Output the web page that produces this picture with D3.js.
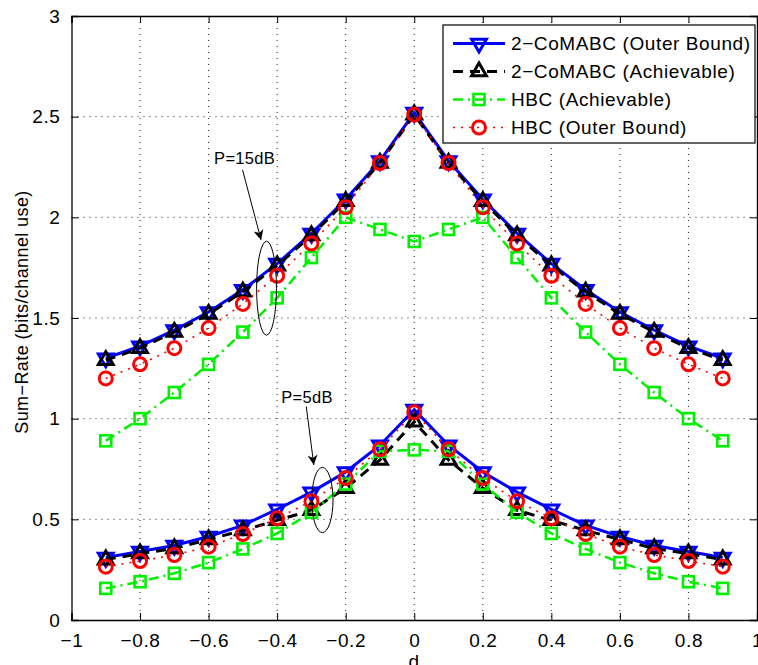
<!DOCTYPE html>
<html>
<head>
<meta charset="utf-8">
<script src="https://cdn.jsdelivr.net/npm/d3@7"></script>
<style>
  body { margin: 0; background: #fff; }
  text { font-family: "Liberation Sans", Arial, Helvetica, sans-serif; }
</style>
</head>
<body>
<div id="chart"></div>
<script>
// read in the data
var dValues = [-0.9, -0.8, -0.7, -0.6, -0.5, -0.4, -0.3, -0.2, -0.1, 0, 0.1, 0.2, 0.3, 0.4, 0.5, 0.6, 0.7, 0.8, 0.9];

// P = 15dB
var coOuter15 = [1.30, 1.36, 1.44, 1.53, 1.64, 1.77, 1.92, 2.09, 2.28, 2.52, 2.28, 2.09, 1.92, 1.77, 1.64, 1.53, 1.44, 1.36, 1.30];
var coAch15   = [1.29, 1.35, 1.43, 1.52, 1.63, 1.76, 1.91, 2.08, 2.27, 2.51, 2.27, 2.08, 1.91, 1.76, 1.63, 1.52, 1.43, 1.35, 1.29];
var hbcAch15  = [0.89, 1.00, 1.13, 1.27, 1.43, 1.60, 1.80, 2.00, 1.94, 1.88, 1.94, 2.00, 1.80, 1.60, 1.43, 1.27, 1.13, 1.00, 0.89];
var hbcOuter15 = [1.20, 1.27, 1.35, 1.45, 1.57, 1.71, 1.87, 2.05, 2.27, 2.51, 2.27, 2.05, 1.87, 1.71, 1.57, 1.45, 1.35, 1.27, 1.20];

// P = 5dB
var coOuter5  = [0.31, 0.34, 0.37, 0.415, 0.47, 0.55, 0.635, 0.735, 0.868, 1.045, 0.868, 0.735, 0.635, 0.55, 0.47, 0.415, 0.37, 0.34, 0.31];
var coAch5    = [0.30, 0.33, 0.355, 0.40, 0.445, 0.495, 0.545, 0.655, 0.795, 0.985, 0.795, 0.655, 0.545, 0.495, 0.445, 0.40, 0.355, 0.33, 0.30];
var hbcAch5   = [0.157, 0.19, 0.232, 0.285, 0.353, 0.43, 0.535, 0.675, 0.838, 0.845, 0.838, 0.675, 0.535, 0.43, 0.353, 0.285, 0.232, 0.19, 0.157];
var hbcOuter5 = [0.265, 0.293, 0.323, 0.364, 0.427, 0.505, 0.59, 0.705, 0.848, 1.032, 0.848, 0.705, 0.59, 0.505, 0.427, 0.364, 0.323, 0.293, 0.265];

var seriesNames = ["2\u2212CoMABC (Outer Bound)", "2\u2212CoMABC (Achievable)", "HBC (Achievable)", "HBC (Outer Bound)"];
var xTicks = [-1, -0.8, -0.6, -0.4, -0.2, 0, 0.2, 0.4, 0.6, 0.8, 1];
var yTicks = [0, 0.5, 1, 1.5, 2, 2.5, 3];

var W = 758, H = 665;
var margin = {top: 16, right: 1, bottom: 45, left: 71.5};
var width = W - margin.left - margin.right,
    height = H - margin.top - margin.bottom;

var svg = d3.select("#chart").append("svg")
    .attr("width", W)
    .attr("height", H)
  .append("g")
    .attr("transform", "translate(" + margin.left + "," + margin.top + ")");

var x = d3.scaleLinear().domain([-1, 1]).range([0, width]);
var y = d3.scaleLinear().domain([0, 3]).range([height, 0]);

// grid
svg.selectAll(".vgrid").data(xTicks.slice(1, -1)).enter().append("line")
    .attr("x1", function(d) { return x(d); }).attr("x2", function(d) { return x(d); })
    .attr("y1", 0).attr("y2", height)
    .attr("stroke", "#222").attr("stroke-width", 1).attr("stroke-dasharray", "1,5");
svg.selectAll(".hgrid").data(yTicks.slice(1, -1)).enter().append("line")
    .attr("y1", function(d) { return y(d); }).attr("y2", function(d) { return y(d); })
    .attr("x1", 0).attr("x2", width)
    .attr("stroke", "#222").attr("stroke-width", 1).attr("stroke-dasharray", "1,5");

// axes (ticks pointing in, MATLAB style)
var fmt = function(d) { return d3.format("")(d); };
var gx = svg.append("g").attr("transform", "translate(0," + height + ")")
    .call(d3.axisBottom(x).tickValues(xTicks).tickSize(-7).tickPadding(14).tickFormat(fmt));
var gx2 = svg.append("g")
    .call(d3.axisTop(x).tickValues(xTicks).tickSize(-7).tickFormat(""));
var gy = svg.append("g")
    .call(d3.axisLeft(y).tickValues(yTicks).tickSize(-7).tickPadding(11).tickFormat(fmt));
var gy2 = svg.append("g").attr("transform", "translate(" + width + ",0)")
    .call(d3.axisRight(y).tickValues(yTicks).tickSize(-7).tickFormat(""));
[gx, gx2, gy, gy2].forEach(function(g) {
  g.select(".domain").attr("stroke", "#000").attr("stroke-width", 1.3);
  g.selectAll(".tick line").attr("stroke", "#000");
  g.selectAll("text").attr("font-size", 19).attr("letter-spacing", 0.6).attr("fill", "#000")
    .attr("font-family", "'Liberation Sans', Arial, sans-serif");
});

// series definitions
var styles = [
  {color: "#0000ff", dash: null, width: 3, marker: "down"},
  {color: "#000000", dash: "10,7", width: 3, marker: "up"},
  {color: "#00f000", dash: "10,5,2,5", width: 2.5, marker: "square"},
  {color: "#ff0000", dash: "2,6", width: 1.6, marker: "circle"}
];
var groups = [
  [coOuter15, coAch15, hbcAch15, hbcOuter15],
  [coOuter5, coAch5, hbcAch5, hbcOuter5]
];

var line = d3.line().x(function(d) { return x(d[0]); }).y(function(d) { return y(d[1]); });

function drawMarker(sel, st) {
  if (st.marker === "circle") {
    sel.append("circle").attr("r", 6.5)
      .attr("fill", "none").attr("stroke", st.color).attr("stroke-width", 3);
  } else if (st.marker === "square") {
    sel.append("rect").attr("x", -5.5).attr("y", -5.5).attr("width", 11).attr("height", 11)
      .attr("fill", "none").attr("stroke", st.color).attr("stroke-width", 2.6);
  } else {
    sel.append("path")
      .attr("d", d3.symbol().type(d3.symbolTriangle).size(95))
      .attr("transform", st.marker === "down" ? "rotate(180)" : null)
      .attr("fill", "none").attr("stroke", st.color).attr("stroke-width", 3);
  }
}

styles.forEach(function(st, si) {
  groups.forEach(function(grp) {
    var pts = dValues.map(function(d, i) { return [d, grp[si][i]]; });
    svg.append("path").datum(pts)
      .attr("d", line)
      .attr("fill", "none")
      .attr("stroke", st.color)
      .attr("stroke-width", st.width)
      .attr("stroke-dasharray", st.dash);
    svg.selectAll(null).data(pts).enter().append("g")
      .attr("transform", function(d) { return "translate(" + x(d[0]) + "," + y(d[1]) + ")"; })
      .each(function() { drawMarker(d3.select(this), st); });
  });
});

// annotations
var notes = [
  {label: "P=15dB", tx: -0.584, ty: 2.264, ax1: -0.501, ay1: 2.236, ax2: -0.447, ay2: 1.888, ex: -0.431, ey: 1.648, erx: 0.029, ery: 0.233},
  {label: "P=5dB", tx: -0.388, ty: 1.08, ax1: -0.315, ay1: 1.06, ax2: -0.293, ay2: 0.77, ex: -0.268, ey: 0.596, erx: 0.031, ery: 0.162}
];
svg.append("defs").append("marker")
    .attr("id", "arrow").attr("viewBox", "0 0 10 10")
    .attr("refX", 10).attr("refY", 5)
    .attr("markerWidth", 10).attr("markerHeight", 14)
    .attr("markerUnits", "userSpaceOnUse")
    .attr("orient", "auto")
  .append("path").attr("d", "M0,0 L10,5 L0,10 L3,5 Z").attr("fill", "#000");
notes.forEach(function(n) {
  svg.append("text").attr("x", x(n.tx)).attr("y", y(n.ty))
    .attr("font-size", 16.5).attr("letter-spacing", 0.3).attr("fill", "#000").text(n.label);
  svg.append("line")
    .attr("x1", x(n.ax1)).attr("y1", y(n.ay1))
    .attr("x2", x(n.ax2)).attr("y2", y(n.ay2))
    .attr("stroke", "#000").attr("stroke-width", 1)
    .attr("marker-end", "url(#arrow)");
  svg.append("ellipse")
    .attr("cx", x(n.ex)).attr("cy", y(n.ey))
    .attr("rx", x(n.ex + n.erx) - x(n.ex)).attr("ry", y(n.ey) - y(n.ey + n.ery))
    .attr("fill", "none").attr("stroke", "#000").attr("stroke-width", 1);
});

// legend
var lg = svg.append("g").attr("transform", "translate(" + (443 - margin.left) + "," + (25 - margin.top) + ")");
lg.append("rect").attr("width", 312).attr("height", 118)
  .attr("fill", "#fff").attr("stroke", "#000").attr("stroke-width", 1.2);
seriesNames.forEach(function(name, i) {
  var st = styles[i];
  var row = lg.append("g").attr("transform", "translate(0," + (18.5 + i * 28) + ")");
  row.append("line").attr("x1", 10).attr("x2", 62).attr("y1", 0).attr("y2", 0)
    .attr("stroke", st.color).attr("stroke-width", st.width).attr("stroke-dasharray", st.dash);
  drawMarker(row.append("g").attr("transform", "translate(36,0)"), st);
  row.append("text").attr("x", 68).attr("y", 0).attr("dy", "0.36em")
    .attr("font-size", 19).attr("letter-spacing", 0.6).attr("fill", "#000").text(name);
});

// axis labels
svg.append("text")
  .attr("x", width / 2 - 0.5).attr("y", height + 48)
  .attr("text-anchor", "middle").attr("font-size", 19).text("d");
svg.append("text")
  .attr("transform", "translate(" + (28 - margin.left) + "," + (312 - margin.top) + ") rotate(-90)")
  .attr("text-anchor", "middle").attr("font-size", 18).attr("letter-spacing", 0.4)
  .text("Sum\u2212Rate (bits/channel use)");
</script>
</body>
</html>
